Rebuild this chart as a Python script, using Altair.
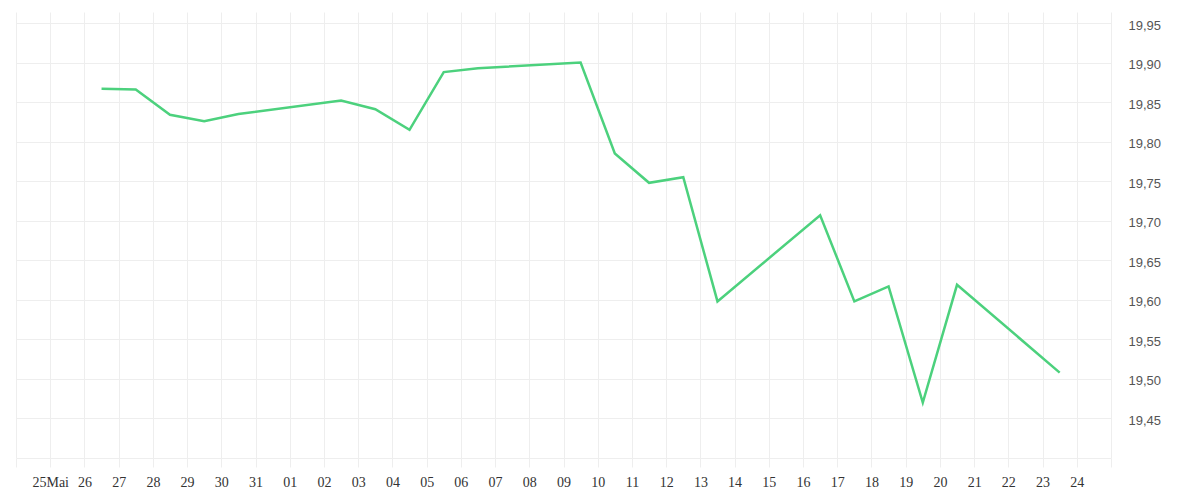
import altair as alt
import pandas as pd

# Trading days (2025) and closing values
dates = [
    "2025-05-26", "2025-05-27", "2025-05-28", "2025-05-29", "2025-05-30",
    "2025-06-02", "2025-06-03", "2025-06-04", "2025-06-05", "2025-06-06",
    "2025-06-09", "2025-06-10", "2025-06-11", "2025-06-12", "2025-06-13",
    "2025-06-16", "2025-06-17", "2025-06-18", "2025-06-19", "2025-06-20",
    "2025-06-23",
]
values = [
    19.867, 19.866, 19.834, 19.826, 19.835,
    19.852, 19.841, 19.815, 19.888, 19.893,
    19.900, 19.785, 19.748, 19.755, 19.598,
    19.707, 19.598, 19.617, 19.470, 19.619,
    19.508,
]
y_ticks = [19.45, 19.50, 19.55, 19.60, 19.65, 19.70, 19.75, 19.80, 19.85, 19.90, 19.95]

df = pd.DataFrame({
    "t": [d + "T12:00:00Z" for d in dates],
    "v": values,
})

x_domain = [
    alt.DateTime(year=2025, month=5, date=24, utc=True),
    alt.DateTime(year=2025, month=6, date=25, utc=True),
]

label_expr = (
    "(utcmonth(datum.value)==4 && utcdate(datum.value)==24) || "
    "(utcmonth(datum.value)==5 && utcdate(datum.value)==25) ? '' : "
    "(utcmonth(datum.value)==4 && utcdate(datum.value)==25) ? '25Mai' : "
    "utcFormat(datum.value, '%d')"
)

chart = (
    alt.Chart(df)
    .mark_line(color="#4cd17d", strokeWidth=2.5)
    .encode(
        x=alt.X(
            "t:T",
            scale=alt.Scale(type="utc", domain=x_domain, nice=False),
            axis=alt.Axis(
                title=None,
                tickCount={"interval": "day", "step": 1},
                labelExpr=label_expr,
                labelFont="Liberation Serif",
                labelFontSize=14,
                labelColor="#333333",
                labelPadding=8,
                labelOverlap=False,
                labelFlush=False,
                tickColor="#eeeeee",
                tickSize=9,
                domainColor="#eeeeee",
                gridColor="#eeeeee",
                grid=True,
            ),
        ),
        y=alt.Y(
            "v:Q",
            scale=alt.Scale(domain=[19.40, 19.964], nice=False, zero=False),
            axis=alt.Axis(
                title=None,
                orient="right",
                values=y_ticks,
                labelExpr="replace(format(datum.value, '.2f'), '.', ',')",
                labelFont="Liberation Sans",
                labelFontSize=13,
                labelColor="#555555",
                labelPadding=17,
                labelOffset=2,
                ticks=False,
                domain=False,
                gridColor="#eeeeee",
                grid=True,
            ),
        ),
    )
    .properties(
        width=1095,
        height=446,
        background="white",
        padding={"left": 7, "top": 4, "right": 5, "bottom": 5},
    )
    .configure_view(strokeOpacity=0, strokeWidth=0)
)

chart.save("out.html", embed_options={"renderer": "svg", "actions": False})
